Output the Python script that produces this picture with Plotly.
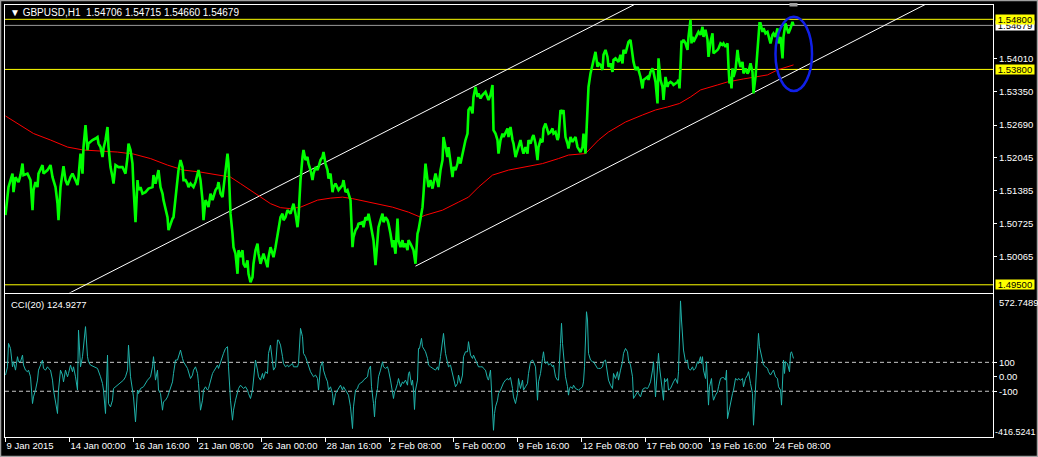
import plotly.graph_objects as go
import numpy as np

# ---------------- data ----------------
price_bar = [0,3,7,8,10,13,15,17,18,22,25,27,28,30,32,33,37,38,42,45,47,50,52,53,55,57,58,60,62,65,67,70,72,73,75,77,78,80,82,83,87,90,92,93,95,97,98,100,102,103,105,107,108,110,113,117,120,122,123,125,127,128,130,132,133,135,137,140,143,147,148,150,152,153,155,157,158,160,162,163,165,167,168,170,172,173,175,177,178,180,182,183,185,188,190,192,193,195,197,198,200,202,203,205,207,210,212,213,215,217,218,220,222,223,225,227,228,230,232,233,235,237,238,240,242,243,245,247,248,250,252,253,255,257,258,260,262,263,265,267,268,270,272,273,275,277,278,280,282,285,287,288,290,292,293,295,297,298,300,302,303,305,307,308,310,312,313,315,317,318,320,322,323,325,
             327,328,330,333,337,338,340,342,343,345,347,348,350,352,353,357,358,360,362,363,365,367,368,370,372,373,375,377,378,380,382,383,385,387,388,390,392,393,395,397,398,400,402,403,405,407,408,410,412,413,415,417,418,420,422,423,425,427,428,430,432,433,435,437,438,440,442,443,445,447,448,450,452,453,455,457,458,460,462,463,465,467,468,470,472,473,475,477,480,482,483,485,487,488,490,492,493,495,497,498,500,502,503,505,507,508,510,512,513,515,517,518,520,522,523,525,527,528,530,532,533,535,537,538,540,542,543,545,547,548,550,552,553,555,557,558,560,562,563,565,567,568,570,572,573,575,577,578,580,582,583,585,587,588,590,592,593,595,597,598,600,602,603,605,607,608,610,613,615,617,618,620,622,623,625,627,628,630,632,633,635,637,638,640,642,643,645,647,648,650,
             652,653,655,657,658,660,662,663,665,667,668,670,672,673,674,675,676,677,678,680,682,683,685,686,687,688,690,692,693,695,697,698,700,702,703,705,707,708,710,712,713,715,717,718,720,722,723,724,725,726,727,728,730,732,733,735,737,738,740,742,743,745,747,748,750,752,753,754,755,757,758,760,762,763,765,767,768,770,772,773,775,777,778,780,782,783,785,787,788]
price = [1.5089,1.5145,1.5172,1.5135,1.5165,1.5155,1.5169,1.5192,1.5169,1.5172,1.5159,1.5099,1.5139,1.5155,1.5145,1.5172,1.5189,1.5172,1.5179,1.5189,1.5165,1.5145,1.5112,1.5079,1.5145,1.5172,1.5187,1.5159,1.5149,1.5165,1.5172,1.5159,1.5149,1.5165,1.5212,1.5172,1.5225,1.5269,1.5219,1.5232,1.5239,1.5242,1.5245,1.5232,1.5225,1.5205,1.5222,1.5239,1.5265,1.5225,1.5185,1.5165,1.5152,1.5189,1.5185,1.5185,1.5172,1.5205,1.5232,1.5219,1.5192,1.5145,1.5075,1.5159,1.5139,1.5145,1.5132,1.5135,1.5142,1.5145,1.5169,1.5152,1.5172,1.5179,1.5145,1.5132,1.5119,1.5099,1.5085,1.5059,1.5072,1.5082,1.5085,1.5119,1.5159,1.5179,1.5199,1.5185,1.5159,1.5159,1.5152,1.5145,1.5152,1.5145,1.5155,1.5172,1.5179,1.5159,1.5119,1.5079,1.5119,1.5112,1.5105,1.5132,1.5119,1.5139,1.5145,1.5155,1.5132,1.5125,1.5145,1.5172,1.5212,1.5192,1.5092,1.5052,1.5025,1.5012,1.4972,1.5019,1.5005,1.5019,1.4992,1.4985,1.4999,1.4972,1.4955,1.4965,1.4992,1.5019,1.5032,1.5012,1.4992,1.5005,1.5012,1.4999,1.4985,1.5005,1.5025,1.5012,1.5005,1.5025,1.5052,1.5065,1.5085,1.5092,1.5079,1.5085,1.5099,1.5092,1.5105,1.5112,1.5092,1.5065,1.5085,1.5159,1.5205,1.5219,1.5199,1.5205,1.5192,1.5179,1.5159,1.5172,1.5185,1.5179,1.5185,1.5199,1.5205,1.5215,1.5192,1.5179,1.5162,1.5172,
         1.5135,1.5145,1.5152,1.5139,1.5149,1.5159,1.5135,1.5139,1.5132,1.5119,1.5025,1.5045,1.5059,1.5065,1.5072,1.5075,1.5065,1.5085,1.5079,1.5092,1.5072,1.5052,1.5039,1.4989,1.5032,1.5065,1.5079,1.5092,1.5075,1.5085,1.5079,1.5072,1.5052,1.5025,1.5039,1.5012,1.5082,1.5039,1.5025,1.5039,1.5025,1.5032,1.5019,1.5039,1.5032,1.5025,1.5019,1.4992,1.5052,1.5059,1.5079,1.5105,1.5132,1.5192,1.5159,1.5145,1.5159,1.5142,1.5152,1.5172,1.5155,1.5145,1.5179,1.5199,1.5245,1.5225,1.5205,1.5225,1.5199,1.5165,1.5185,1.5179,1.5192,1.5205,1.5192,1.5212,1.5225,1.5239,1.5252,1.5299,1.5305,1.5292,1.5325,1.5345,1.5325,1.5332,1.5322,1.5329,1.5335,1.5325,1.5319,1.5329,1.5349,1.5259,1.5252,1.5239,1.5212,1.5239,1.5252,1.5245,1.5255,1.5262,1.5245,1.5265,1.5239,1.5232,1.5205,1.5219,1.5225,1.5239,1.5219,1.5212,1.5225,1.5212,1.5239,1.5232,1.5245,1.5249,1.5232,1.5199,1.5225,1.5239,1.5235,1.5262,1.5272,1.5259,1.5252,1.5255,1.5262,1.5252,1.5255,1.5239,1.5245,1.5299,1.5292,1.5299,1.5245,1.5232,1.5222,1.5245,1.5235,1.5239,1.5245,1.5225,1.5222,1.5215,1.5225,1.5252,1.5212,1.5325,1.5345,1.5372,1.5389,1.5395,1.5415,1.5385,1.5392,1.5389,1.5379,1.5409,1.5419,1.5405,1.5385,1.5392,1.5375,1.5399,1.5402,1.5395,1.5409,1.5392,1.5419,1.5412,1.5425,1.5435,1.5439,1.5409,1.5395,1.5379,1.5385,1.5379,1.5365,1.5342,1.5359,1.5362,1.5365,1.5359,1.5375,1.5382,1.5375,1.5355,
         1.5312,1.5402,1.5359,1.5345,1.5319,1.5365,1.5345,1.5352,1.5355,1.5352,1.5349,1.5352,1.5355,1.5359,1.5342,1.5385,1.5435,1.5435,1.5439,1.5432,1.5419,1.5445,1.5479,1.5432,1.5445,1.5435,1.5442,1.5452,1.5455,1.5449,1.5465,1.5445,1.5459,1.5439,1.5405,1.5435,1.5452,1.5412,1.5415,1.5419,1.5422,1.5432,1.5429,1.5432,1.5425,1.5432,1.5385,1.5352,1.5365,1.5342,1.5382,1.5365,1.5379,1.5419,1.5402,1.5385,1.5395,1.5372,1.5382,1.5372,1.5375,1.5392,1.5375,1.5332,1.5365,1.5419,1.5452,1.5472,1.5472,1.5455,1.5462,1.5452,1.5455,1.5445,1.5432,1.5449,1.5452,1.5445,1.5462,1.5432,1.5445,1.5402,1.5445,1.5472,1.5459,1.5452,1.5462,1.5475,1.5468]

ma_bar = [0,12,28,45,62,78,95,112,128,145,162,178,195,212,225,235,245,255,265,275,285,295,312,325,337,347,370,387,403,415,420,437,453,463,473,487,503,520,537,553,563,580,593,603,620,637,650,662,674,685,695,712,722,738,752,762,772,782,788]
ma = [1.5287,1.5272,1.5252,1.5239,1.5225,1.5219,1.5217,1.5215,1.5211,1.5202,1.5189,1.5179,1.5175,1.5169,1.5165,1.5152,1.5139,1.5125,1.5112,1.5104,1.5102,1.5105,1.5119,1.5123,1.5125,1.5122,1.5112,1.5105,1.5095,1.5085,1.5089,1.5099,1.5115,1.5125,1.5145,1.5169,1.5179,1.5185,1.5192,1.5202,1.5209,1.5212,1.5239,1.5255,1.5275,1.5289,1.5299,1.5305,1.5312,1.5325,1.5339,1.5349,1.5355,1.5361,1.5365,1.5369,1.5379,1.5385,1.5389]

cci_bar = [0,2,3,5,7,8,10,12,13,15,17,18,20,22,23,25,27,28,30,32,33,35,37,38,40,42,43,45,47,48,50,52,53,55,57,58,60,62,63,65,67,68,70,72,73,75,77,78,80,82,83,85,88,92,95,97,98,100,102,103,105,107,108,110,112,115,118,120,122,123,125,127,128,130,132,133,135,138,142,145,147,148,150,152,153,155,157,158,160,162,163,165,167,168,170,172,173,175,177,178,182,185,187,188,190,192,193,195,197,198,200,202,203,205,207,208,210,212,213,215,217,218,220,222,223,225,227,228,230,232,233,235,237,238,240,242,243,245,247,248,250,252,253,255,257,258,260,262,263,265,267,268,270,272,273,275,277,278,280,282,283,285,287,288,290,292,293,295,297,298,300,302,303,305,307,308,310,312,313,315,317,318,320,322,323,325,327,328,330,332,333,335,337,338,340,342,343,
           345,347,348,349,350,352,353,355,357,358,360,362,363,365,366,367,368,369,370,372,373,375,377,378,380,382,383,385,387,388,389,390,392,393,395,397,398,400,402,403,404,406,407,408,409,410,412,413,414,416,417,418,420,422,423,425,427,428,430,432,433,435,437,438,440,442,443,445,447,448,450,452,453,455,457,458,460,462,463,465,467,468,470,472,473,475,477,478,480,482,483,485,486,487,488,489,490,492,493,495,497,498,500,502,503,505,507,508,510,512,513,515,517,518,520,522,523,525,527,528,530,532,533,535,537,538,539,540,542,543,545,547,548,550,552,553,555,556,557,558,560,562,563,564,565,567,568,570,572,573,575,577,578,579,581,582,583,585,587,588,590,592,593,595,597,598,600,602,603,605,607,608,610,612,613,615,617,618,620,622,623,625,627,628,630,632,633,635,637,638,640,642,643,645,647,648,650,652,653,654,655,657,658,659,660,662,663,665,667,668,670,672,673,674,
           675,676,677,678,680,682,683,685,687,688,690,692,693,695,696,697,698,700,701,702,703,704,706,707,708,710,712,713,715,717,718,720,721,722,723,725,727,728,730,732,733,735,737,738,740,742,743,745,747,748,750,752,753,754,756,757,758,760,762,763,765,767,768,770,772,773,775,776,777,778,779,780,782,783,784,785,786,787,788]
cci = [12,69,231,196,69,104,46,139,104,104,150,81,46,35,46,0,-185,-139,-92,-23,46,81,116,58,46,69,58,46,-23,-92,-185,-254,-92,46,12,-35,46,0,23,81,35,69,0,-92,323,69,139,231,347,139,104,81,69,58,0,-46,-92,-254,150,-185,-208,-162,-81,-69,-58,-35,-23,0,46,219,0,-92,-139,-312,-92,-116,-81,-69,-23,0,69,139,-23,46,-92,-116,-231,-173,-162,-139,-116,-69,-35,23,116,116,139,185,127,104,58,-12,12,46,69,23,-46,-231,-162,-92,-69,-92,-81,-23,23,35,58,81,58,104,139,162,196,208,69,-162,-300,-231,-162,-92,-81,-58,-69,-81,-69,-92,-116,-150,-92,0,116,46,0,-23,23,-12,35,23,162,219,116,46,69,254,254,219,139,92,69,81,69,81,92,69,69,69,92,335,277,162,139,92,69,35,12,0,12,-12,-92,69,104,46,0,-35,-92,-69,-116,-196,-116,-92,-81,-58,-92,-69,-92,-116,-127,
       -208,-358,-208,-139,-92,-81,-58,-42,-35,-23,-12,0,46,74,-69,-116,-185,-277,-162,-81,0,46,104,69,58,69,46,-23,-92,-150,-104,-92,-46,-12,-69,-35,-46,-23,-58,23,35,-58,-23,-92,-226,-92,-23,196,196,266,208,196,173,127,81,69,58,58,46,69,46,139,231,300,162,104,69,81,12,-23,-69,-46,12,-46,12,139,173,173,243,150,127,150,116,81,69,69,69,58,46,-12,-23,46,-69,-231,-370,-254,-208,-162,-116,-92,-58,-42,-23,-12,-23,-5,-81,-139,-185,-116,-12,-81,-23,-92,-69,-46,23,104,116,104,69,-162,-35,23,127,173,116,92,104,81,92,69,81,0,-23,-23,231,370,231,139,0,-69,-127,-81,-69,-81,-58,-81,-92,-92,-81,-69,-35,69,450,393,162,116,104,104,81,58,58,58,69,104,116,35,-23,-58,-81,23,-12,35,-23,46,104,162,196,173,116,81,0,-150,-127,-104,-116,-139,-92,-81,-76,-81,-69,-35,46,104,-139,46,162,69,12,-92,-162,-12,-35,-12,-92,-81,-46,-35,-12,-46,35,323,
       525,393,243,185,104,116,58,46,69,46,58,104,92,139,92,139,46,-12,104,-92,-196,-69,-12,-116,-162,-127,-104,-69,-12,-5,-5,-23,46,-289,-254,-162,-116,-92,-12,-23,-12,-23,-12,-69,-12,12,35,-46,-116,-335,-92,185,300,208,139,104,81,69,58,35,12,35,46,0,-12,-69,-92,-196,23,116,23,104,92,69,35,162,173,150,127]
cci_levels = [100, -100]
cci_max, cci_min = 572.7489, -416.5241

tick_bars = [0, 64, 128, 192, 256, 320, 384, 448, 512, 576, 640, 704, 768]
tick_labels = ["9 Jan 2015", "14 Jan 00:00", "16 Jan 16:00", "21 Jan 08:00", "26 Jan 00:00",
               "28 Jan 16:00", "2 Feb 08:00", "5 Feb 00:00", "9 Feb 16:00", "12 Feb 08:00",
               "17 Feb 00:00", "19 Feb 16:00", "24 Feb 08:00"]
price_ticks = [1.54010, 1.53350, 1.52690, 1.52045, 1.51385, 1.50725, 1.50065]
levels = [1.548, 1.538, 1.495]
bid = 1.54679
upper_line = ([320, 626], [1.51946, 1.55066])   # channel line anchors (bar, price)
lower_line = ([410, 650], [1.49872, 1.52332])   # ray starting at the Feb 2 low
ellipse_bars = (770, 806.5)
ellipse_prices = (1.5337, 1.5485)

# ---------------- figure ----------------
W, H = 1038, 457
ML, MR, MT, MB = 5, 45, 5, 20
PW, PH = W - ML - MR, H - MT - MB
def px(x):
    return (x - ML) / PW
def py(y):
    return (H - MB - y) / PH

XR = [-0.5, PW - 0.5]
YR = [1.49346, 1.55086]
FONT = "Liberation Sans, DejaVu Sans, Arial"
FS = 9.5

fig = go.Figure()

def extend(anchor, x_start, x_end):
    xs, ys = anchor
    k = (ys[1] - ys[0]) / (xs[1] - xs[0])
    xe = np.array([x_start, x_end], dtype=float)
    return xe, ys[0] + k * (xe - xs[0])

# horizontal levels
for lv in levels:
    fig.add_trace(go.Scatter(x=XR, y=[lv, lv], mode="lines",
                             line=dict(color="#FFFF00", width=1), hoverinfo="skip"))
fig.add_trace(go.Scatter(x=XR, y=[bid, bid], mode="lines",
                         line=dict(color="#9A9A9A", width=1), hoverinfo="skip"))

# channel lines
ux, uy = extend(upper_line, -10, 1000)
fig.add_trace(go.Scatter(x=ux, y=uy, mode="lines", line=dict(color="#FFFFFF", width=1), hoverinfo="skip"))
lx, ly = extend(lower_line, lower_line[0][0], 1000)
fig.add_trace(go.Scatter(x=lx, y=ly, mode="lines", line=dict(color="#FFFFFF", width=1), hoverinfo="skip"))

# moving average & price
fig.add_trace(go.Scatter(x=ma_bar, y=ma, mode="lines", line=dict(color="#FF0000", width=1)))
fig.add_trace(go.Scatter(x=price_bar, y=price, mode="lines", line=dict(color="#00FF00", width=2.6)))

# CCI
for lv in cci_levels:
    fig.add_trace(go.Scatter(x=XR, y=[lv, lv], mode="lines", xaxis="x2", yaxis="y2",
                             line=dict(color="#C8C8C8", width=1, dash="4px,3px"), hoverinfo="skip"))
fig.add_trace(go.Scatter(x=cci_bar, y=cci, mode="lines", xaxis="x2", yaxis="y2",
                         line=dict(color="#20B2AA", width=1)))

axis_common = dict(showgrid=False, zeroline=False, showline=True, mirror=True,
                   linecolor="#FFFFFF", linewidth=1, automargin=False)

fig.update_layout(
    template="none",
    width=W, height=H, autosize=False,
    margin=dict(l=ML, r=MR, t=MT, b=MB, pad=0),
    paper_bgcolor="#000000", plot_bgcolor="#000000",
    showlegend=False,
    font=dict(family=FONT, size=FS, color="#FFFFFF"),
    xaxis=dict(domain=[0, 1], range=XR, anchor="y", showticklabels=False, ticks="", **axis_common),
    yaxis=dict(domain=[py(292.5), 1], range=YR, side="right", anchor="x",
               tickvals=price_ticks, ticktext=[f"{v:.5f}" for v in price_ticks],
               ticks="outside", ticklen=3, tickcolor="#FFFFFF",
               tickfont=dict(family=FONT, size=FS, color="#FFFFFF"), **axis_common),
    xaxis2=dict(domain=[0, 1], range=XR, anchor="y2",
                tickvals=tick_bars, ticktext=tick_labels, ticks="outside", ticklen=4,
                tickcolor="#FFFFFF", ticklabelposition="outside right", tickangle=0,
                tickfont=dict(family=FONT, size=FS, color="#FFFFFF"), **axis_common),
    yaxis2=dict(domain=[0, py(294)], range=[cci_min, cci_max], side="right", anchor="x2",
                tickvals=[100, 0, -100], ticktext=["100", "0.00", "-100"],
                ticks="outside", ticklen=3, tickcolor="#FFFFFF",
                tickfont=dict(family=FONT, size=FS, color="#FFFFFF"), **axis_common),
)

annotations = [
    dict(text="\u25BC\u00a0GBPUSD,H1\u00a0\u00a01.54706 1.54715 1.54660 1.54679",
         x=px(8), y=py(12), xref="paper", yref="paper", xanchor="left", yanchor="middle",
         showarrow=False, font=dict(family=FONT, size=10, color="#FFFFFF")),
    dict(text="CCI(20) 124.9277", x=px(9), y=py(304), xref="paper", yref="paper",
         xanchor="left", yanchor="middle", showarrow=False,
         font=dict(family=FONT, size=FS, color="#FFFFFF")),
    dict(text=f"{cci_max:.4f}", x=px(997), y=py(302), xref="paper", yref="paper",
         xanchor="left", yanchor="middle", showarrow=False,
         font=dict(family=FONT, size=FS, color="#FFFFFF")),
    dict(text=f"{cci_min:.4f}", x=px(993), y=py(432), xref="paper", yref="paper",
         xanchor="left", yanchor="middle", showarrow=False,
         font=dict(family=FONT, size=9, color="#FFFFFF")),
]
# price labels on the axis (bid first so the 1.54800 box covers it)
annotations.append(dict(text=f"{bid:.5f}", x=px(995), y=bid, xref="paper", yref="y",
                        xanchor="left", yanchor="middle", showarrow=False, bgcolor="#FFFFFF",
                        width=38, height=9, borderpad=0,
                        font=dict(family=FONT, size=FS, color="#000000")))
for lv in levels:
    annotations.append(dict(text=f"{lv:.5f}", x=px(995), y=lv, xref="paper", yref="y",
                            xanchor="left", yanchor="middle", showarrow=False, bgcolor="#FFFF00",
                            width=38, height=9, borderpad=0,
                            font=dict(family=FONT, size=FS, color="#000000")))
fig.update_layout(annotations=annotations)

shapes = [
    dict(type="circle", xref="x", yref="y", x0=ellipse_bars[0], x1=ellipse_bars[1],
         y0=ellipse_prices[0], y1=ellipse_prices[1], line=dict(color="#1020E8", width=2.5)),
    dict(type="rect", xref="x", yref="paper", x0=784, x1=792, y0=py(6.5), y1=py(3),
         fillcolor="#A0A0A0", line=dict(width=0)),
    dict(type="rect", xref="paper", yref="paper", x0=px(0.5), x1=px(1037.5), y0=py(456.5), y1=py(0.5),
         line=dict(color="#A0A0A0", width=1.5)),
]
fig.update_layout(shapes=shapes)

fig.write_html("out.html", config={"displayModeBar": False},
               post_script="document.body.style.margin='0';document.body.style.background='#000';")
